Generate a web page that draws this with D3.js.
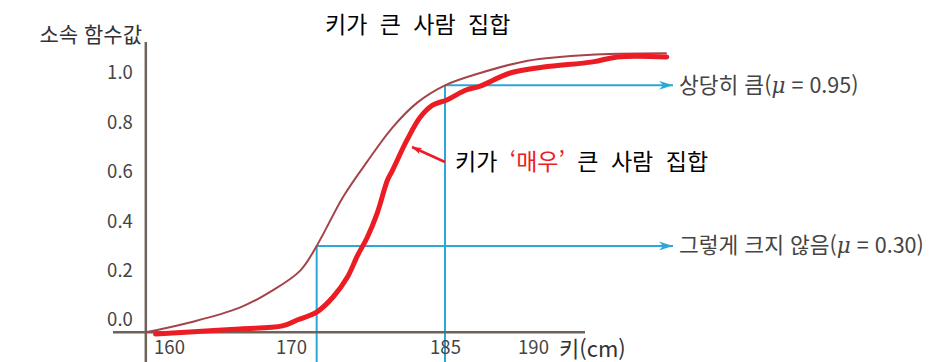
<!DOCTYPE html>
<html lang="ko">
<head>
<meta charset="UTF-8">
<title>키가 큰 사람 집합</title>
<script src="https://d3js.org/d3.v7.min.js"></script>
<style>
  body { margin: 0; background: #fff; }
  text { font-family: "Noto Sans CJK KR", "Noto Sans", sans-serif; }
</style>
</head>
<body>
<div id="chart"></div>
<script>
  // 눈금
  const heightTicks = [160, 170, 185, 190];
  const muTicks = [0.0, 0.2, 0.4, 0.6, 0.8, 1.0];

  // 키가 큰 사람 집합 (얇은 곡선)
  const tallHeights = [158.1, 161.7, 165.8, 168.5, 170.9, 172.5, 175.1, 177.4, 179.9, 182.3, 185.0, 187.0, 189.7, 191.5, 194.3, 197.6];
  const tallMu = [-0.05, -0.01, 0.05, 0.12, 0.20, 0.30, 0.50, 0.64, 0.78, 0.88, 0.95, 1.00, 1.05, 1.065, 1.077, 1.08];

  // 키가 '매우' 큰 사람 집합 (빨간 곡선)
  const veryHeights = [158.9, 161.7, 165.8, 169.3, 170.6, 172.5, 174.1, 175.5, 176.5, 177.4, 178.4, 179.4, 179.9, 181.3, 182.6, 183.8, 185.1, 186.2, 187.0, 188.7, 190.6, 193.4, 194.8, 197.6];
  const veryMu = [-0.057, -0.049, -0.036, -0.024, 0.0, 0.032, 0.093, 0.174, 0.263, 0.332, 0.433, 0.567, 0.607, 0.729, 0.822, 0.87, 0.891, 0.931, 0.947, 1.0, 1.024, 1.045, 1.065, 1.065];

  // 기준선
  const levelHeights = [172.5, 185];
  const levelMu = [0.30, 0.95];
  const levelLabels = ["그렇게 크지 않음", "상당히 큼"];
  const levelValues = ["0.30", "0.95"];

  const width = 942, height = 362;
  const axisColor = "#6f6259", blue = "#2ba8d8", red = "#ec1c24", grey = "#444";

  const svg = d3.select("#chart").append("svg")
    .attr("width", width)
    .attr("height", height);

  // 그림 속 눈금 간격이 일정하지 않아서 구간별 선형 스케일을 씀
  const x = d3.scaleLinear().domain(heightTicks).range([169, 291, 445, 533]);
  const y = d3.scaleLinear().domain([0, 1]).range([320, 73]);

  const axisX = x(158.1), axisY = y(-0.05);

  svg.append("defs").selectAll("marker")
    .data([["blueHead", blue, 14, 9], ["redHead", red, 10, 7]])
    .join("marker")
    .attr("id", d => d[0])
    .attr("viewBox", d => `0 0 ${d[2]} ${d[3]}`)
    .attr("refX", d => d[2]).attr("refY", d => d[3] / 2)
    .attr("markerWidth", d => d[2]).attr("markerHeight", d => d[3])
    .attr("markerUnits", "userSpaceOnUse")
    .attr("orient", "auto")
    .append("path")
    .attr("d", d => `M0,0L${d[2]},${d[3] / 2}L0,${d[3]}L${d[2] * 0.3},${d[3] / 2}Z`)
    .attr("fill", d => d[1]);

  // 기준선 (파란색)
  levelHeights.forEach((h, i) => {
    svg.append("line")
      .attr("x1", x(h)).attr("x2", x(h))
      .attr("y1", height).attr("y2", y(levelMu[i]))
      .attr("stroke", blue).attr("stroke-width", 2);
    svg.append("line")
      .attr("x1", x(h)).attr("x2", 673)
      .attr("y1", y(levelMu[i])).attr("y2", y(levelMu[i]))
      .attr("stroke", blue).attr("stroke-width", 2)
      .attr("marker-end", "url(#blueHead)");
    const t = svg.append("text")
      .attr("x", 679).attr("y", y(levelMu[i]))
      .attr("dy", "0.35em")
      .attr("font-size", 21.5)
      .attr("fill", grey);
    t.append("tspan").text(levelLabels[i] + "(");
    t.append("tspan").attr("font-style", "italic").attr("font-family", "DejaVu Serif").text("μ");
    t.append("tspan").text(" = " + levelValues[i] + ")");
  });

  // 축
  svg.append("line")
    .attr("x1", axisX).attr("x2", axisX)
    .attr("y1", 42).attr("y2", height)
    .attr("stroke", axisColor).attr("stroke-width", 2.5);
  svg.append("line")
    .attr("x1", 113).attr("x2", 585)
    .attr("y1", axisY).attr("y2", axisY)
    .attr("stroke", axisColor).attr("stroke-width", 2.5);

  const yAxis = svg.append("g")
    .attr("transform", `translate(${axisX - 10},0)`)
    .call(d3.axisLeft(y).tickValues(muTicks).tickSize(0).tickFormat(d3.format(".1f")));
  yAxis.select(".domain").remove();
  yAxis.selectAll("text").attr("font-size", 18.5).attr("fill", grey)
    .attr("font-family", "Roboto");

  const xAxis = svg.append("g")
    .attr("transform", `translate(0,${axisY + 6})`)
    .call(d3.axisBottom(x).tickValues(heightTicks).tickSize(0));
  xAxis.select(".domain").remove();
  xAxis.selectAll("text").attr("font-size", 18.5).attr("fill", grey)
    .attr("font-family", "Roboto");

  svg.append("text")
    .attr("x", 142).attr("y", 42)
    .attr("text-anchor", "end")
    .attr("font-size", 21).attr("fill", "#333")
    .text("소속 함수값");

  svg.append("text")
    .attr("x", 559).attr("y", 349)
    .attr("dy", "0.35em")
    .attr("font-size", 22).attr("fill", "#333")
    .text("키(cm)");

  // 곡선
  const line = d3.line()
    .x(d => x(d[0]))
    .y(d => y(d[1]));

  svg.append("path")
    .datum(d3.zip(tallHeights, tallMu))
    .attr("d", line.curve(d3.curveCatmullRom.alpha(0.5)))
    .attr("fill", "none")
    .attr("stroke", "#a5434b")
    .attr("stroke-width", 2);

  svg.append("path")
    .datum(d3.zip(veryHeights, veryMu))
    .attr("d", line.curve(d3.curveCatmullRom.alpha(0.5)))
    .attr("fill", "none")
    .attr("stroke", red)
    .attr("stroke-width", 5)
    .attr("stroke-linecap", "round")
    .attr("stroke-linejoin", "round");

  // 제목과 설명
  svg.append("text")
    .attr("x", 325).attr("y", 33)
    .attr("font-size", 23).attr("fill", "#000")
    .attr("word-spacing", 6)
    .text("키가 큰 사람 집합");

  svg.append("line")
    .attr("x1", 445).attr("y1", 162)
    .attr("x2", 412).attr("y2", 147)
    .attr("stroke", red).attr("stroke-width", 2.5)
    .attr("marker-end", "url(#redHead)");

  const note = svg.append("text")
    .attr("x", 455).attr("y", 170)
    .attr("font-size", 23).attr("fill", "#000")
    .attr("word-spacing", 6);
  note.append("tspan").text("키가 ");
  note.append("tspan").attr("fill", red).text("‘매우’");
  note.append("tspan").text(" 큰 사람 집합");
</script>
</body>
</html>
